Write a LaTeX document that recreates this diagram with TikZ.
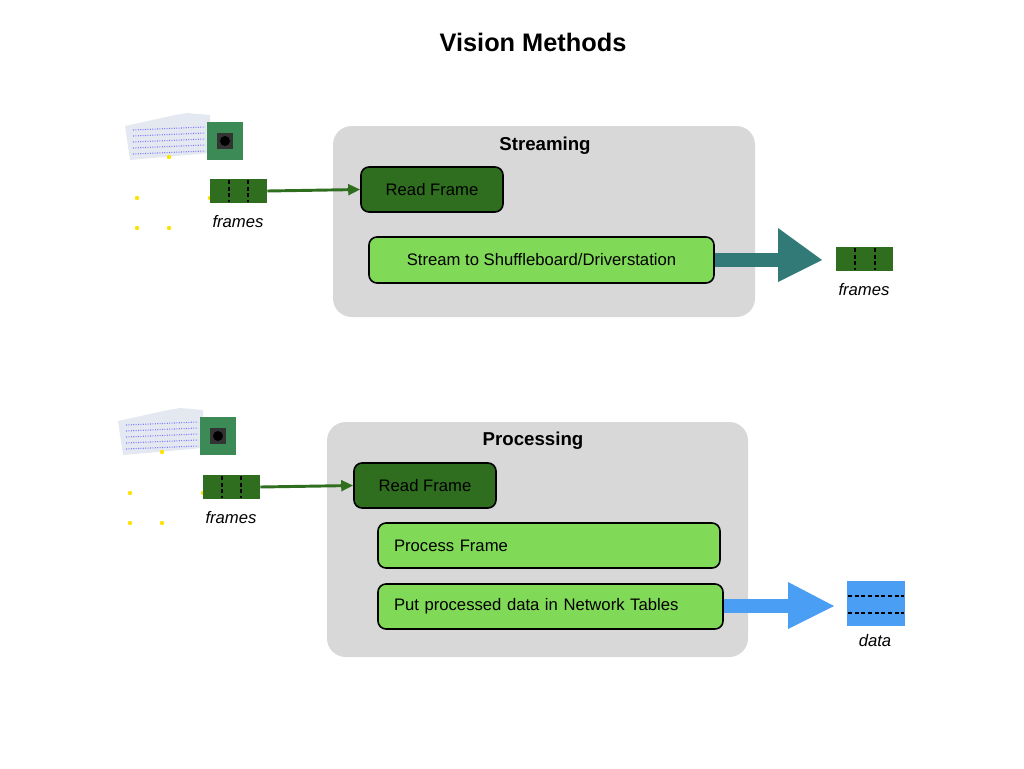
\documentclass[tikz,border=0pt]{standalone}
\usepackage{fontspec}
\setmainfont{Liberation Sans}
\usetikzlibrary{arrows.meta}
\definecolor{panel}{HTML}{D8D8D8}
\definecolor{dgreen}{HTML}{2F6E1F}
\definecolor{lgreen}{HTML}{80D957}
\definecolor{teal}{HTML}{317A78}
\definecolor{sky}{HTML}{4A9FF5}
\definecolor{ribbon}{HTML}{E4E8F0}
\definecolor{pcb}{HTML}{3C8A55}
\begin{document}
\begin{tikzpicture}[x=0.75pt,y=-0.75pt,
  panelbox/.style={fill=panel,rounded corners=14pt,draw=none},
  dstep/.style={draw=black,line width=1.2pt,fill=dgreen,rounded corners=6pt,font=\fontsize{12.5}{14}\selectfont},
  lstep/.style={draw=black,line width=1.2pt,fill=lgreen,rounded corners=6pt,font=\fontsize{12.5}{14}\selectfont},
  lab/.style={font=\fontsize{12.5}{14}\selectfont\itshape},
  ptitle/.style={font=\fontsize{14}{16}\selectfont\bfseries},
  feed/.style={draw=dgreen,line width=2.2pt,-{Triangle[length=9pt,width=8pt]}}]
\useasboundingbox (0,0) rectangle (1024,768);
\node[font=\fontsize{19}{22}\selectfont\bfseries] (title) at (533,42) {Vision Methods};

% camera drawing
\newcommand{\camera}[2]{%
  \begin{scope}[shift={(#1,#2)}]
   \fill[ribbon] (0,13) -- (50,2) -- (62,0) -- (85,2) -- (85,40) -- (5,47) -- cycle;
   \foreach \yy in {15,21,27,33,39} \draw[blue!50,densely dotted,line width=0.8pt] (8,\yy+2) -- (80,\yy-1);
   \fill[pcb] (82,9) rectangle (118,47);
   \foreach \cx/\cy in {85,12/115,12/85,44/115,44} \fill[yellow!85!orange] (\cx,\cy) circle (2.2);
   \fill[black!80] (92,20) rectangle (108,36);
   \fill[black] (100,28) circle (5);
  \end{scope}}
\camera{125}{113}
\camera{118}{408}

% Streaming
\fill[panelbox] (333,126) rectangle (755,317);
\node[ptitle] (st) at (545,146) {Streaming};
\node[dstep,minimum width=142*0.75pt,minimum height=45*0.75pt] (rf1) at (432,189.5) {Read Frame};
\node[lstep,minimum width=345*0.75pt,minimum height=46*0.75pt] (sb) at (541.5,260) {Stream to Shuffleboard/Driverstation};
\node[fill=dgreen,minimum width=57*0.75pt,minimum height=24*0.75pt,inner sep=0] (f1) at (238.5,191) {};
\draw[densely dashed,line width=1pt] (229,180)--(229,202) (248,180)--(248,202);
\node[lab] (f1l) at (238,222) {frames};
\draw[feed] (f1.east) -- (rf1.west);
\node[fill=dgreen,minimum width=57*0.75pt,minimum height=24*0.75pt,inner sep=0] (f2) at (864.5,259) {};
\draw[densely dashed,line width=1pt] (855,248)--(855,270) (875,248)--(875,270);
\node[lab] (f2l) at (864,290) {frames};
\coordinate (t1) at (822,260);
\fill[teal] (sb.east |- 0,253) rectangle (779,267);
\fill[teal] (778,228) -- (t1) -- (778,282) -- cycle;

% Processing
\fill[panelbox] (327,422) rectangle (748,657);
\node[ptitle] (pt) at (533,441) {Processing};
\node[dstep,minimum width=142*0.75pt,minimum height=45*0.75pt] (rf2) at (425,485.5) {Read Frame};
\node[lstep,minimum width=342*0.75pt,minimum height=45*0.75pt,text width=310*0.75pt,align=left] (pf) at (549,545.5) {Process Frame};
\node[lstep,minimum width=345*0.75pt,minimum height=45*0.75pt,text width=313*0.75pt,align=left] (pd) at (550.5,606.5) {Put processed data in Network Tables};
\node[fill=dgreen,minimum width=57*0.75pt,minimum height=24*0.75pt,inner sep=0] (f3) at (231.5,487) {};
\draw[densely dashed,line width=1pt] (222,476)--(222,498) (241,476)--(241,498);
\node[lab] (f3l) at (231,518) {frames};
\draw[feed] (f3.east) -- (rf2.west);
\node[fill=sky,minimum width=58*0.75pt,minimum height=45*0.75pt,inner sep=0] (d) at (876,603.5) {};
\draw[densely dashed,line width=1pt] (848,596)--(904,596) (848,613)--(904,613);
\node[lab] (dl) at (875,641) {data};
\coordinate (t2) at (834,606);
\fill[sky] (pd.east |- 0,599) rectangle (789,613);
\fill[sky] (788,582) -- (t2) -- (788,629) -- cycle;
\end{tikzpicture}
\end{document}
